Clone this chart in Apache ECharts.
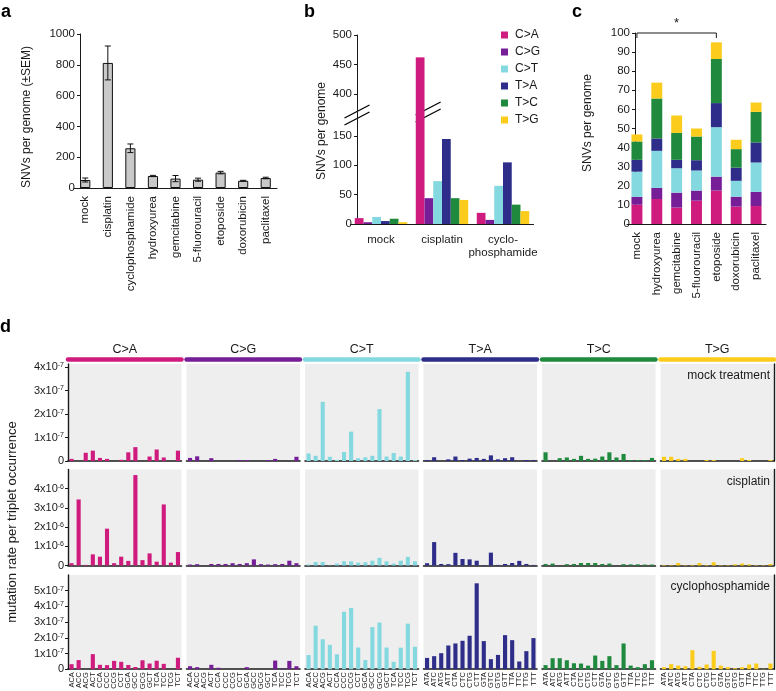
<!DOCTYPE html>
<html><head><meta charset="utf-8">
<script src="https://cdn.jsdelivr.net/npm/echarts@6/dist/echarts.min.js"></script>
<style>html,body{margin:0;padding:0;background:#fff}#c{width:776px;height:691px}</style>
</head><body><div id="c"></div>
<script>
const FONT = '"Liberation Sans", Arial, Helvetica, sans-serif';
const INK = '#1a1a1a';
const mutTypes = ['C>A','C>G','C>T','T>A','T>C','T>G'];
const mutColors = ['#cf1a7e','#761e98','#84d8e0','#2e2d8a','#1f8a3d','#fbcc1c'];

// ---- panel a ----
const aCats = ['mock','cisplatin','cyclophosphamide','hydroxyurea','gemcitabine','5-fluorouracil','etoposide','doxorubicin','paclitaxel'];
const aValues = [52, 812, 258, 78, 61, 54, 100, 47, 65];
const aSem = [13, 110, 28, 4, 20, 10, 8, 3, 5];
const aTicks = [0, 200, 400, 600, 800, 1000];

// ---- panel b ----
const bCats = ['mock','cisplatin','cyclo-\nphosphamide'];
const bCA = [10, 462, 19];
const bCG = [3, 44, 7];
const bCT = [12, 73, 65];
const bTA = [5, 145, 105];
const bTC = [9, 44, 33];
const bTG = [3, 41, 22];
const bTicksLow = [0, 50, 100, 150];
const bTicksHigh = [400, 450, 500];

// ---- panel c ----
const cCats = ['mock','hydroxyurea','gemcitabine','5-fluorouracil','etoposide','doxorubicin','paclitaxel'];
const cCA = [10.1, 13.1, 8.6, 12.2, 17.5, 9.1, 9.4];
const cCG = [4.1, 5.8, 7.8, 5.3, 7.3, 5.2, 7.4];
const cCT = [13.2, 19.4, 12.8, 10.5, 25.9, 8.3, 15.4];
const cTA = [6.2, 6.5, 4.4, 5.4, 12.6, 6.9, 10.5];
const cTC = [9.6, 20.9, 14.1, 12.4, 23.1, 9.7, 16.0];
const cTG = [3.7, 8.3, 9.1, 4.2, 8.7, 4.9, 4.9];

// ---- panel d ----
const tripletsC = ['ACA','ACC','ACG','ACT','CCA','CCC','CCG','CCT','GCA','GCC','GCG','GCT','TCA','TCC','TCG','TCT'];
const tripletsT = ['ATA','ATC','ATG','ATT','CTA','CTC','CTG','CTT','GTA','GTC','GTG','GTT','TTA','TTC','TTG','TTT'];
// mock treatment, units of 1e-7
const dMockCA = [0.09,0,0.35,0.44,0.13,0.09,0,0.05,0.37,0.59,0,0.19,0.49,0.15,0,0.44];
const dMockCG = [0.13,0.2,0,0.12,0,0,0,0.04,0.04,0,0,0.04,0.09,0,0,0.18];
const dMockCT = [0.32,0.22,2.52,0.18,0.05,0.38,1.25,0.12,0.16,0.22,2.21,0.19,0.34,0.19,3.8,0.04];
const dMockTA = [0.04,0.16,0,0.07,0.19,0.04,0.1,0.13,0.09,0.24,0.07,0.12,0.16,0,0.04,0.04];
const dMockTC = [0.37,0,0.12,0.15,0.09,0.22,0.09,0.1,0.19,0.37,0.15,0.3,0.04,0.04,0.04,0.13];
const dMockTG = [0.18,0.18,0.09,0.09,0,0,0.04,0.04,0,0,0,0.12,0.04,0,0,0.04];
// cisplatin, units of 1e-6
const dCisCA = [0.12,3.44,0.03,0.58,0.46,1.92,0.12,0.46,0.24,4.71,0.28,0.63,0.2,3.18,0.15,0.7];
const dCisCG = [0.05,0.07,0.01,0.08,0.08,0.08,0.12,0.08,0.12,0.32,0.07,0.05,0.07,0.08,0.25,0.12];
const dCisCT = [0.05,0.18,0.18,0.01,0.1,0.22,0.22,0.15,0.17,0.25,0.4,0.22,0.1,0.25,0.45,0.22];
const dCisTA = [0.12,1.22,0.08,0.07,0.66,0.34,0.32,0.25,0.02,0.67,0.03,0.08,0.13,0.24,0.08,0.03];
const dCisTC = [0.08,0.1,0,0.07,0.08,0.13,0.13,0.13,0.08,0.1,0,0.07,0.06,0.06,0.05,0.05];
const dCisTG = [0.03,0.02,0.13,0.02,0.03,0.13,0.03,0.17,0.02,0.02,0.06,0.1,0.06,0.02,0.02,0.08];
// cyclophosphamide, units of 1e-7
const dCycCA = [0.32,0.58,0,0.96,0.28,0.26,0.53,0.47,0.27,0.14,0.57,0.36,0.54,0.34,0,0.73];
const dCycCG = [0.19,0.13,0,0.28,0.09,0,0,0,0.13,0,0,0,0.55,0.04,0.53,0.19];
const dCycCT = [0.9,2.77,1.91,1.55,0.95,3.66,3.9,1.38,0.58,2.68,2.97,1.38,0.47,1.37,2.9,1.43];
const dCycTA = [0.72,0.83,1.02,1.51,1.64,1.81,2.13,5.47,1.79,0.64,0.91,2.17,1.85,0.49,1.15,1.98];
const dCycTC = [0.26,0.7,0.7,0.57,0.38,0.36,0.23,0.87,0.53,0.83,0.26,1.64,0.23,0.13,0.32,0.57];
const dCycTG = [0.13,0.32,0.23,0.19,1.21,0.15,0.3,1.17,0.23,0.13,0.06,0.13,0.3,0.36,0.02,0.36];
const dTicksMock = [0, 1, 2, 3, 4];
const dTicksCis = [0, 1, 2, 3, 4];
const dTicksCyc = [0, 1, 2, 3, 4, 5];
const dRowExp = ['-7', '-6', '-7'];
const dRowNames = ['mock treatment', 'cisplatin', 'cyclophosphamide'];

// ---------- build ----------
const chart = echarts.init(document.getElementById('c'), null, {renderer: 'canvas'});
const tx = (size) => ({color: INK, fontFamily: FONT, fontSize: size});
const blackLine = (w) => ({show: true, lineStyle: {color: INK, width: w || 1}});
const plain = v => String(v);
const grids = [], xAxes = [], yAxes = [], series = [];

// a
grids.push({left: 74, top: 34, width: 203, height: 154, outerBoundsMode: 'none'});
xAxes.push({type: 'category', gridIndex: 0, data: aCats, axisLine: blackLine(1.2), axisTick: {show: false},
  axisLabel: Object.assign({rotate: 90, margin: 8, interval: 0}, tx(11.5))});
yAxes.push({type: 'value', gridIndex: 0, min: 0, max: 1000, offset: -6, axisLine: blackLine(1),
  axisTick: {show: true, length: 3, customValues: aTicks, lineStyle: {color: INK}},
  axisLabel: Object.assign({customValues: aTicks, margin: 5, formatter: plain}, tx(11.5)), splitLine: {show: false}});
series.push({type: 'bar', xAxisIndex: 0, yAxisIndex: 0, data: aValues, barWidth: '45%',
  itemStyle: {color: '#c9c9c9', borderColor: '#111', borderWidth: 1}});
series.push({type: 'custom', xAxisIndex: 0, yAxisIndex: 0, z: 5,
  data: aValues.map((v, i) => [i, v - aSem[i], v + aSem[i]]),
  renderItem: function (params, api) {
    const lo = api.coord([api.value(0), api.value(1)]);
    const hi = api.coord([api.value(0), api.value(2)]);
    const w = 3, st = {stroke: '#111', lineWidth: 1};
    return {type: 'group', children: [
      {type: 'line', shape: {x1: lo[0], y1: lo[1], x2: hi[0], y2: hi[1]}, style: st},
      {type: 'line', shape: {x1: hi[0] - w, y1: hi[1], x2: hi[0] + w, y2: hi[1]}, style: st},
      {type: 'line', shape: {x1: lo[0] - w, y1: lo[1], x2: lo[0] + w, y2: lo[1]}, style: st}
    ]};
  }});

// b (top = grid 1, bottom = grid 2)
const bArr = [bCA, bCG, bCT, bTA, bTC, bTG];
const bTopMin = 364, bLowMax = 185.7;
grids.push({left: 350.5, top: 35, width: 183, height: 80, outerBoundsMode: 'none'});
grids.push({left: 350.5, top: 115, width: 183, height: 109, outerBoundsMode: 'none'});
xAxes.push({type: 'category', gridIndex: 1, data: bCats, show: false});
xAxes.push({type: 'category', gridIndex: 2, data: bCats, axisLine: blackLine(1.2), axisTick: {show: false},
  axisLabel: Object.assign({margin: 9, interval: 0, lineHeight: 13}, tx(11.5))});
yAxes.push({type: 'value', gridIndex: 1, min: bTopMin, max: 500, offset: -6.5, axisLine: blackLine(1),
  axisTick: {show: true, length: 3, customValues: bTicksHigh, lineStyle: {color: INK}},
  axisLabel: Object.assign({customValues: bTicksHigh, margin: 5, formatter: plain}, tx(11.5)), splitLine: {show: false}});
yAxes.push({type: 'value', gridIndex: 2, min: 0, max: bLowMax, offset: -6.5, axisLine: blackLine(1),
  axisTick: {show: true, length: 3, customValues: bTicksLow, lineStyle: {color: INK}},
  axisLabel: Object.assign({customValues: bTicksLow, margin: 5, formatter: plain}, tx(11.5)), splitLine: {show: false}});
bArr.forEach((arr, k) => {
  series.push({type: 'bar', name: mutTypes[k], xAxisIndex: 2, yAxisIndex: 2, data: arr,
    barGap: '0%', barCategoryGap: '14%', itemStyle: {color: mutColors[k]}});
});
bArr.forEach((arr, k) => {
  series.push({type: 'bar', name: mutTypes[k], xAxisIndex: 1, yAxisIndex: 1,
    data: arr.map(v => v > bTopMin ? v : null),
    barGap: '0%', barCategoryGap: '14%', itemStyle: {color: mutColors[k]}});
});

// c (grid 3)
const cArr = [cCA, cCG, cCT, cTA, cTC, cTG];
grids.push({left: 627, top: 33, width: 139, height: 191, outerBoundsMode: 'none'});
xAxes.push({type: 'category', gridIndex: 3, data: cCats, axisLine: blackLine(1.2), axisTick: {show: false},
  axisLabel: Object.assign({rotate: 90, margin: 8, interval: 0}, tx(11.5))});
yAxes.push({type: 'value', gridIndex: 3, min: 0, max: 100, interval: 10, offset: -8, axisLine: blackLine(1),
  axisTick: {show: true, length: 3, lineStyle: {color: INK}},
  axisLabel: Object.assign({margin: 5, formatter: plain}, tx(11.5)), splitLine: {show: false}});
cArr.forEach((arr, k) => {
  series.push({type: 'bar', name: mutTypes[k], xAxisIndex: 3, yAxisIndex: 3, data: arr, stack: 'c',
    barWidth: '55%', itemStyle: {color: mutColors[k]}});
});

// d (grids 4..21)
const dRows = [
  [dMockCA, dMockCG, dMockCT, dMockTA, dMockTC, dMockTG],
  [dCisCA, dCisCG, dCisCT, dCisTA, dCisTC, dCisTG],
  [dCycCA, dCycCG, dCycCT, dCycTA, dCycTC, dCycTG]
];
const dRowTicks = [dTicksMock, dTicksCis, dTicksCyc];
const dRowMax = [4.13, 5, 6];
const dRowTop = [364, 469.5, 575];
const dRowH = [97, 96, 94.2];
const colLeft = c => 68 + c * 118.5;
const colW = 113.5;
for (let r = 0; r < 3; r++) {
  for (let c = 0; c < 6; c++) {
    const gi = grids.length;
    grids.push({left: colLeft(c), top: dRowTop[r], width: colW, height: dRowH[r], show: true,
      backgroundColor: '#eeeeee', borderWidth: 0, outerBoundsMode: 'none'});
    const cats = c < 3 ? tripletsC : tripletsT;
    xAxes.push({type: 'category', gridIndex: gi, data: cats, axisLine: blackLine(1.6), axisTick: {show: false},
      axisLabel: r === 2 ? Object.assign({show: true, rotate: 90, margin: 3, interval: 0}, tx(7.5)) : {show: false}});
    const exp = dRowExp[r];
    const ticks = dRowTicks[r];
    const y = {type: 'value', gridIndex: gi, min: 0, max: dRowMax[r], splitLine: {show: false}};
    if (c === 0) {
      Object.assign(y, {position: 'left', axisLine: blackLine(1.4),
        axisTick: {show: true, length: 3, customValues: ticks, lineStyle: {color: INK}},
        axisLabel: Object.assign({customValues: ticks, margin: 4,
          formatter: v => v === 0 ? '0' : Math.round(v) + 'x10{s|' + exp + '}',
          rich: {s: {fontSize: 7, verticalAlign: 'top', color: INK, fontFamily: FONT, padding: [0, 0, 0, 0]}}}, tx(11))});
    } else if (c === 5) {
      Object.assign(y, {position: 'right', axisLine: blackLine(1.4), axisTick: {show: false}, axisLabel: {show: false}});
    } else {
      Object.assign(y, {show: false});
    }
    yAxes.push(y);
    series.push({type: 'bar', name: mutTypes[c], xAxisIndex: gi, yAxisIndex: gi, data: dRows[r][c],
      barWidth: '58%', itemStyle: {color: mutColors[c]}});
  }
}
// header axes on top row
for (let c = 0; c < 6; c++) {
  xAxes.push({type: 'category', gridIndex: 4 + c, position: 'top', offset: 5,
    data: c < 3 ? tripletsC : tripletsT,
    axisLine: {show: true, lineStyle: {color: mutColors[c], width: 4.5}},
    axisTick: {show: false}, axisLabel: {show: false},
    name: mutTypes[c], nameLocation: 'middle', nameGap: 3, nameTextStyle: tx(12.5)});
}

const option = {
  animation: false,
  backgroundColor: '#ffffff',
  textStyle: {fontFamily: FONT},
  grid: grids, xAxis: xAxes, yAxis: yAxes, series: series,
  legend: {data: mutTypes, orient: 'vertical', left: 496, top: 24, itemWidth: 7, itemHeight: 7, itemGap: 5,
    icon: 'rect', selectedMode: false, textStyle: Object.assign({padding: [0, 0, 0, 2]}, tx(12))}
};
chart.setOption(option);

// ---------- annotations ----------
const g = [];
const letter = (t, x, y) => ({type: 'text', x: x, y: y, style: {text: t, font: 'bold 18px ' + FONT, fill: '#000', textVerticalAlign: 'top'}});
g.push(letter('a', 1, 3), letter('b', 304, 3), letter('c', 572, 3), letter('d', 0, 318));
const vtitle = (t, x, y, size) => ({type: 'text', x: x, y: y, rotation: Math.PI / 2,
  style: {text: t, font: size + 'px ' + FONT, fill: INK, textAlign: 'center', textVerticalAlign: 'middle'}});
g.push(vtitle('SNVs per genome (±SEM)', 27, 117, 12));
g.push(vtitle('SNVs per genome', 322, 131, 12));
g.push(vtitle('SNVs per genome', 588, 123, 12));
g.push(vtitle('mutation rate per triplet occurrence', 12, 522, 13));
// row labels
for (let r = 0; r < 3; r++) {
  g.push({type: 'text', x: 770, y: dRowTop[r] + 12, style: {text: dRowNames[r], font: '12px ' + FONT, fill: INK, textAlign: 'right', textVerticalAlign: 'middle'}});
}
// axis breaks in b
const pMock = chart.convertToPixel({gridIndex: 2}, ['mock', 0]);
const pCis = chart.convertToPixel({gridIndex: 2}, ['cisplatin', 0]);
const band = pCis[0] - pMock[0];
const breakY = chart.convertToPixel({yAxisIndex: 2}, bLowMax);
const axisX = pMock[0] - band / 2 + 6.5;
const groupW = band * 0.86, bw = groupW / 6;
const cisCAx = pCis[0] - groupW / 2 + bw / 2;
function breakMark(cx, cy) {
  const hw = 12.5, dy = 6.5, gap = 7;
  return {type: 'group', z: 100, children: [
    {type: 'polygon', shape: {points: [[cx - hw, cy + dy - gap / 2], [cx + hw, cy - dy - gap / 2], [cx + hw, cy - dy + gap / 2], [cx - hw, cy + dy + gap / 2]]}, style: {fill: '#fff'}},
    {type: 'line', shape: {x1: cx - hw, y1: cy + dy - gap / 2, x2: cx + hw, y2: cy - dy - gap / 2}, style: {stroke: '#000', lineWidth: 1.3}},
    {type: 'line', shape: {x1: cx - hw, y1: cy + dy + gap / 2, x2: cx + hw, y2: cy - dy + gap / 2}, style: {stroke: '#000', lineWidth: 1.3}}
  ]};
}
g.push(breakMark(axisX, breakY), breakMark(cisCAx + 8, breakY - 3));
// significance bracket in c
const s1 = chart.convertToPixel({gridIndex: 3}, ['mock', 100]);
const s2 = chart.convertToPixel({gridIndex: 3}, ['etoposide', 100]);
g.push({type: 'polyline', z: 100, shape: {points: [[s1[0], s1[1] + 5], [s1[0], s1[1]], [s2[0], s2[1]], [s2[0], s2[1] + 5]]}, style: {stroke: INK, lineWidth: 1, fill: null}});
g.push({type: 'text', x: (s1[0] + s2[0]) / 2, y: s1[1] - 3, style: {text: '*', font: '13px ' + FONT, fill: INK, textAlign: 'center', textVerticalAlign: 'bottom'}});
chart.setOption({graphic: {elements: g}});
</script>
</body></html>
